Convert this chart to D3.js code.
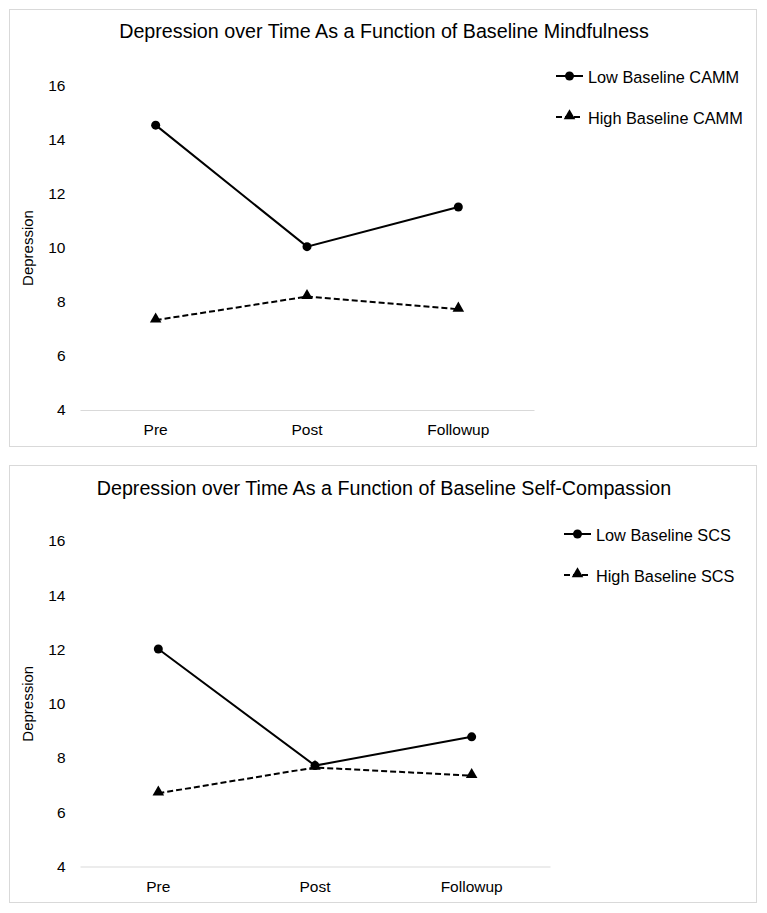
<!DOCTYPE html>
<html><head><meta charset="utf-8">
<script src="https://cdn.jsdelivr.net/npm/d3@7"></script>
<style>body{margin:0;background:#fff;}svg{display:block;font-family:"Liberation Sans",Arial,sans-serif;}</style>
</head><body>
<script>
const categories = ["Pre", "Post", "Followup"];
const yTicks = [4, 6, 8, 10, 12, 14, 16];
const titleA = "Depression over Time As a Function of Baseline Mindfulness";
const titleB = "Depression over Time As a Function of Baseline Self-Compassion";
const lowCAMM = [14.55, 10.05, 11.52];
const highCAMM = [7.33, 8.2, 7.73];
const lowSCS = [12.02, 7.72, 8.78];
const highSCS = [6.7, 7.65, 7.35];
const seriesNamesA = ["Low Baseline CAMM", "High Baseline CAMM"];
const seriesNamesB = ["Low Baseline SCS", "High Baseline SCS"];

const W = 767, H = 913;
const svg = d3.select("body").append("svg").attr("width", W).attr("height", H);

const tri = d3.symbol().type(d3.symbolTriangle).size(58);
const FF = "Liberation Sans, Arial, sans-serif";

function chart(cfg) {
  const g = svg.append("g");
  g.append("rect").attr("x", 9.5).attr("y", cfg.boxTop + 0.5).attr("width", 747).attr("height", cfg.boxH)
    .attr("fill", "#fff").attr("stroke", "#d9d9d9").attr("stroke-width", 1);
  g.append("text").attr("x", 384).attr("y", cfg.titleY).attr("text-anchor", "middle")
    .attr("font-size", 19.7).attr("fill", "#000").text(cfg.title);

  const x = d3.scaleBand().domain(categories).range([80, cfg.xEnd]);
  const y = d3.scaleLinear().domain([4, 16]).range([cfg.y4, cfg.y16]);

  const ya = g.append("g").attr("transform", "translate(65.5,0)")
    .call(d3.axisLeft(y).tickValues(yTicks).tickSize(0).tickPadding(0));
  ya.select(".domain").remove();
  ya.selectAll("text").attr("font-size", 15.5).attr("fill", "#000").attr("font-family", FF);

  const xa = g.append("g").attr("transform", `translate(0,${cfg.y4})`)
    .call(d3.axisBottom(x).tickSize(0).tickPadding(14));
  xa.select(".domain").attr("stroke", "#d9d9d9").attr("stroke-width", 1);
  xa.selectAll("text").attr("font-size", 15.5).attr("fill", "#000").attr("font-family", FF);

  g.append("text").attr("transform", `translate(33,${(cfg.y4 + cfg.y16) / 2}) rotate(-90)`)
    .attr("text-anchor", "middle").attr("font-size", 15).attr("fill", "#000").text("Depression");

  const cx = c => x(c) + x.bandwidth() / 2;
  const line = d3.line().x((d, i) => cx(categories[i])).y(d => y(d));

  g.append("path").datum(cfg.low).attr("d", line).attr("fill", "none")
    .attr("stroke", "#000").attr("stroke-width", 2);
  g.append("path").datum(cfg.high).attr("d", line).attr("fill", "none")
    .attr("stroke", "#000").attr("stroke-width", 2).attr("stroke-dasharray", "6,3");

  g.selectAll(".lowpt").data(cfg.low).enter().append("circle")
    .attr("cx", (d, i) => cx(categories[i])).attr("cy", d => y(d)).attr("r", 4.5).attr("fill", "#000");
  g.selectAll(".highpt").data(cfg.high).enter().append("path")
    .attr("d", tri).attr("transform", (d, i) => `translate(${cx(categories[i])},${y(d) - 1})`).attr("fill", "#000");

  const lg = g.append("g");
  const lx = cfg.legX;
  cfg.names.forEach((n, i) => {
    const ly = cfg.legY + i * cfg.legGap;
    const ln = lg.append("line").attr("x1", lx).attr("x2", lx + 27).attr("y1", ly).attr("y2", ly)
      .attr("stroke", "#000").attr("stroke-width", 2);
    if (i === 1) ln.attr("stroke-dasharray", "6,3");
    if (i === 0) lg.append("circle").attr("cx", lx + 13.5).attr("cy", ly).attr("r", 4.5).attr("fill", "#000");
    else lg.append("path").attr("d", tri).attr("transform", `translate(${lx + 13.5},${ly - 1})`).attr("fill", "#000");
    lg.append("text").attr("x", lx + 32).attr("y", ly + 1).attr("dy", "0.35em")
      .attr("font-size", 16.3).attr("fill", "#000").text(n);
  });
}

chart({boxTop: 9, boxH: 437, title: titleA, titleY: 38, xEnd: 534, y4: 410, y16: 86,
  low: lowCAMM, high: highCAMM, names: seriesNamesA, legX: 556, legY: 76, legGap: 41});
chart({boxTop: 465, boxH: 437, title: titleB, titleY: 495, xEnd: 550, y4: 866.5, y16: 541,
  low: lowSCS, high: highSCS, names: seriesNamesB, legX: 564, legY: 534, legGap: 41});
</script>
</body></html>
